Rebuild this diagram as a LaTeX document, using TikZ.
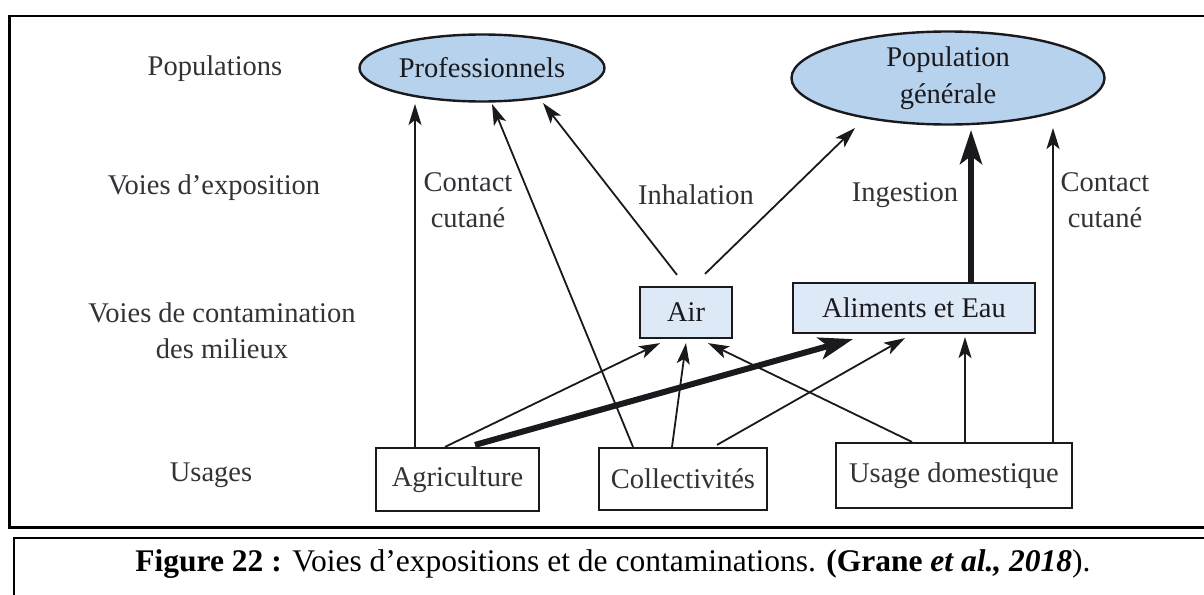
\documentclass[tikz,border=0pt]{standalone}
\usepackage{fontspec}
\setmainfont{Liberation Serif}
\usetikzlibrary{arrows.meta,calc,shapes.geometric}
\definecolor{ellfill}{RGB}{183,210,236}
\definecolor{boxfill}{RGB}{222,233,247}
\definecolor{ink}{RGB}{25,25,30}
\definecolor{txt}{RGB}{50,50,55}
\begin{document}
\begin{tikzpicture}[x=1pt,y=-1pt,
  lbl/.style={font=\fontsize{28.5}{36}\selectfont, text=txt, align=center, inner sep=0pt},
  popell/.style={ellipse, draw=ink, line width=2.4pt, fill=ellfill, inner sep=0pt,
    font=\fontsize{28.5}{37}\selectfont, text=ink, align=center},
  medbox/.style={rectangle, draw=ink, line width=2.2pt, fill=boxfill, inner sep=0pt,
    font=\fontsize{28.5}{36}\selectfont, text=ink},
  usebox/.style={rectangle, draw=ink, line width=2.2pt, fill=white, inner sep=0pt,
    font=\fontsize{28.5}{36}\selectfont, text=txt},
  arr/.style={draw=ink, line width=1.8pt, -{Stealth[length=21pt,width=13pt,inset=5pt]}},
  bigarr/.style={draw=ink, line width=6pt, -{Stealth[length=34pt,width=22pt,inset=8pt]}}
]
\useasboundingbox (0,0) rectangle (1204,594);
\clip (0,0) rectangle (1204,594);
\fill[white] (0,0) rectangle (1204,594);
\draw[line width=2.7pt] (9.5,16) rectangle (1230,527.5);
\draw[line width=2pt] (14,537.5) rectangle (1230,640);

% row labels
\node[lbl] (lpop) at (215,69) {Populations};
\node[lbl] (lexp) at (214,188) {Voies d’exposition};
\node[lbl] (lcont) at (222,331) {Voies de contamination\\des milieux};
\node[lbl] (lusa) at (211,475) {Usages};

% populations
\node[popell, minimum width=245pt, minimum height=67pt] (prof) at (482,68) {Professionnels};
\node[popell, minimum width=313pt, minimum height=93pt] (popg) at (948,78) {Population\\générale};

% milieux
\node[medbox, minimum width=92pt, minimum height=51pt] (air) at (686,312.5) {Air};
\node[medbox, minimum width=242pt, minimum height=50pt] (alim) at (914,308) {Aliments et Eau};

% usages
\node[usebox, minimum width=163pt, minimum height=63pt] (agri) at (457.5,479.5) {Agriculture};
\node[usebox, minimum width=168pt, minimum height=62pt] (coll) at (683,479) {Collectivités};
\node[usebox, minimum width=236pt, minimum height=65pt] (usd) at (954,475.5) {Usage domestique};

% exposure labels
\node[lbl] (cc1) at (468,200) {Contact\\cutané};
\node[lbl] (inh) at (696,195) {Inhalation};
\node[lbl] (ing) at (905,195) {Ingestion};
\node[lbl] (cc2) at (1105,200) {Contact\\cutané};

% arrows to populations
\draw[arr] ($(agri.north)+(-42.5,0)$) -- ($(prof.center)+(-67,36)$);
\draw[arr] ($(coll.north)+(-50,0)$) -- ($(prof.center)+(10,36)$);
\draw[arr] ($(air.north)+(-9,-11)$) -- ($(prof.center)+(61,35)$);
\draw[arr] ($(air.north)+(19,-12)$) -- ($(popg.center)+(-93,50)$);
\draw[bigarr] ($(alim.north)+(57,0)$) -- ($(popg.center)+(23,52)$);
\draw[arr] ($(usd.north)+(99,0)$) -- ($(popg.center)+(105,50)$);

% arrows to milieux
\draw[arr] ($(agri.north)+(-12.5,0)$) -- ($(air.south)+(-26,4)$);
\draw[bigarr] ($(agri.north)+(17.5,-2)$) -- ($(alim.south)+(-61,5)$);
\draw[arr] ($(coll.north)+(-11,0)$) -- ($(air.south)+(0,4)$);
\draw[arr] ($(coll.north)+(34,-2)$) -- ($(alim.south)+(-9,4)$);
\draw[arr] ($(usd.north)+(-42,0)$) -- ($(air.south)+(22,4)$);
\draw[arr] ($(usd.north)+(11,0)$) -- ($(alim.south)+(51,3)$);

% caption
\node[font=\fontsize{31.5}{36}\selectfont, inner sep=0pt] (cap) at (613,564)
  {\textbf{Figure 22 :} Voies d’expositions et de contaminations. \textbf{(Grane \textit{et al., 2018}}).};
\end{tikzpicture}
\end{document}
